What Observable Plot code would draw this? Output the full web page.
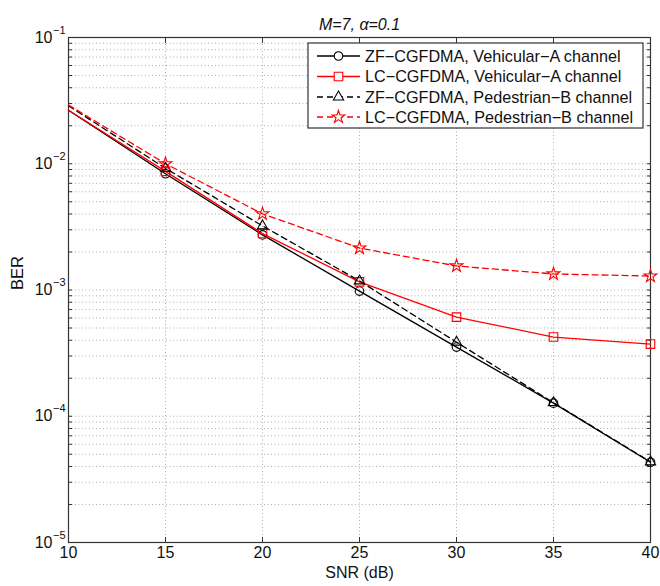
<!DOCTYPE html>
<html><head><meta charset="utf-8">
<script src="https://cdn.jsdelivr.net/npm/d3@7"></script>
<script src="https://cdn.jsdelivr.net/npm/@observablehq/plot@0.6"></script>
<style>body{margin:0;background:#fff} svg{display:block}</style>
</head><body><div id="chart"></div>
<script>
const snr = [10, 15, 20, 25, 30, 35, 40];
const zfVehA = [0.0265, 0.00833, 0.00273, 0.00098, 0.000353, 0.000127, 0.0000432];
const lcVehA = [0.0265, 0.0087, 0.0028, 0.00116, 0.00061, 0.000424, 0.000373];
const zfPedB = [0.0288, 0.0092, 0.00322, 0.00118, 0.000386, 0.000128, 0.0000435];
const lcPedB = [0.0292, 0.0100, 0.00401, 0.00215, 0.00155, 0.00134, 0.00129];
const seriesNames = ["ZF−CGFDMA, Vehicular−A channel", "LC−CGFDMA, Vehicular−A channel", "ZF−CGFDMA, Pedestrian−B channel", "LC−CGFDMA, Pedestrian−B channel"];
const xTicks = [10, 15, 20, 25, 30, 35, 40];
const yMajor = [1e-5, 1e-4, 1e-3, 1e-2, 1e-1];
const yExp = ["−5", "−4", "−3", "−2", "−1"];
const minorMult = [2, 3, 4, 5, 6, 7, 8, 9];
const title = "M=7, α=0.1";

const styles = [
  {color: "#000", dash: null, symbol: "circle", r: 4.3},
  {color: "#ff0000", dash: null, symbol: "square", r: 4.8},
  {color: "#000", dash: "6,4", symbol: "triangle", r: 3.8},
  {color: "#ff0000", dash: "6,4", symbol: "star", r: 4.0}
];
const allY = [zfVehA, lcVehA, zfPedB, lcPedB];
const data = allY.flatMap((ys, s) => ys.map((v, i) => ({s, x: snr[i], y: v})));

const yAll = [];
for (let k = 0; k < yMajor.length; k++) {
  yAll.push(yMajor[k]);
  if (k < yMajor.length - 1) for (const m of minorMult) yAll.push(m * yMajor[k]);
}

const font = "Liberation Sans, Arial, Helvetica, sans-serif";
const W = 660, H = 586;
const marks = [
  Plot.gridY(yAll, {stroke: "#999", strokeOpacity: 1, strokeDasharray: "1,2.5", strokeWidth: 0.8}),
  Plot.gridX(xTicks, {stroke: "#999", strokeOpacity: 1, strokeDasharray: "1,2.5", strokeWidth: 0.8}),
  Plot.axisY(yAll, {anchor: "left", tickSize: -4, tickFormat: () => "", stroke: "#333", label: null}),
  Plot.axisY(yAll, {anchor: "right", tickSize: -4, tickFormat: () => "", stroke: "#333", label: null}),
  Plot.axisX(xTicks, {anchor: "bottom", tickSize: -5, tickFormat: d => String(d), tickPadding: 9, fontSize: 16, stroke: "#333", fill: "#111", label: null}),
  Plot.axisX(xTicks, {anchor: "top", tickSize: -5, tickFormat: () => "", stroke: "#333", label: null}),
  Plot.text(yMajor, {y: d => d, frameAnchor: "left", text: () => "10", textAnchor: "end", dx: -16, fontSize: 16, fill: "#111"}),
  Plot.text(yMajor, {y: d => d, frameAnchor: "left", text: (d, i) => yExp[i], textAnchor: "start", dx: -15.5, dy: -7.5, fontSize: 11, fill: "#111"}),
  Plot.frame({stroke: "#333", strokeWidth: 1.2})
];
styles.forEach((st, s) => {
  const d = data.filter(p => p.s === s);
  marks.push(Plot.line(d, {x: "x", y: "y", stroke: st.color, strokeWidth: 1.3, strokeDasharray: st.dash}));
});
styles.forEach((st, s) => {
  const d = data.filter(p => p.s === s).slice(1);
  marks.push(Plot.dot(d, {x: "x", y: "y", stroke: st.color, fill: "none", symbol: st.symbol, r: st.r, strokeWidth: 1.1}));
});
marks.push(Plot.text([title], {frameAnchor: "top", text: d => d, dy: -19, fontSize: 16, fontStyle: "italic", fill: "#111"}));
marks.push(Plot.text(["SNR (dB)"], {frameAnchor: "bottom", text: d => d, dy: 35, fontSize: 16, fill: "#111"}));
marks.push(Plot.text(["BER"], {frameAnchor: "left", text: d => d, dx: -51, rotate: -90, fontSize: 16.5, fill: "#111"}));

const plot = Plot.plot({
  width: W, height: H,
  marginLeft: 68, marginRight: 10, marginTop: 37, marginBottom: 44,
  style: {fontFamily: font, background: "#fff", overflow: "visible"},
  x: {domain: [10, 40], axis: null},
  y: {type: "log", domain: [1e-5, 1e-1], axis: null},
  marks
});
document.getElementById("chart").append(plot);

// legend
const svg = d3.select(plot);
const lg = svg.append("g").attr("font-family", font).attr("text-anchor", "start");
const bx = 308, by = 43, bw = 335, bh = 85;
lg.append("rect").attr("x", bx).attr("y", by).attr("width", bw).attr("height", bh)
  .attr("fill", "#fff").attr("stroke", "#333").attr("stroke-width", 1.2);
const rowY = [56, 76.5, 97, 117];
styles.forEach((st, s) => {
  const y = rowY[s];
  lg.append("line").attr("x1", 317).attr("x2", 360).attr("y1", y).attr("y2", y)
    .attr("stroke", st.color).attr("stroke-width", 1.3).attr("stroke-dasharray", st.dash);
  const sym = {circle: d3.symbolCircle, square: d3.symbolSquare, triangle: d3.symbolTriangle, star: d3.symbolStar}[st.symbol];
  lg.append("path").attr("d", d3.symbol(sym, Math.PI * st.r * st.r)())
    .attr("transform", `translate(338.5,${y})`).attr("fill", "#fff").attr("stroke", st.color).attr("stroke-width", 1.1);
  lg.append("text").attr("x", 365).attr("y", y).attr("dy", "0.35em").attr("text-anchor", "start").attr("font-size", 16.2).attr("fill", "#111").text(seriesNames[s]);
});
</script></body></html>
